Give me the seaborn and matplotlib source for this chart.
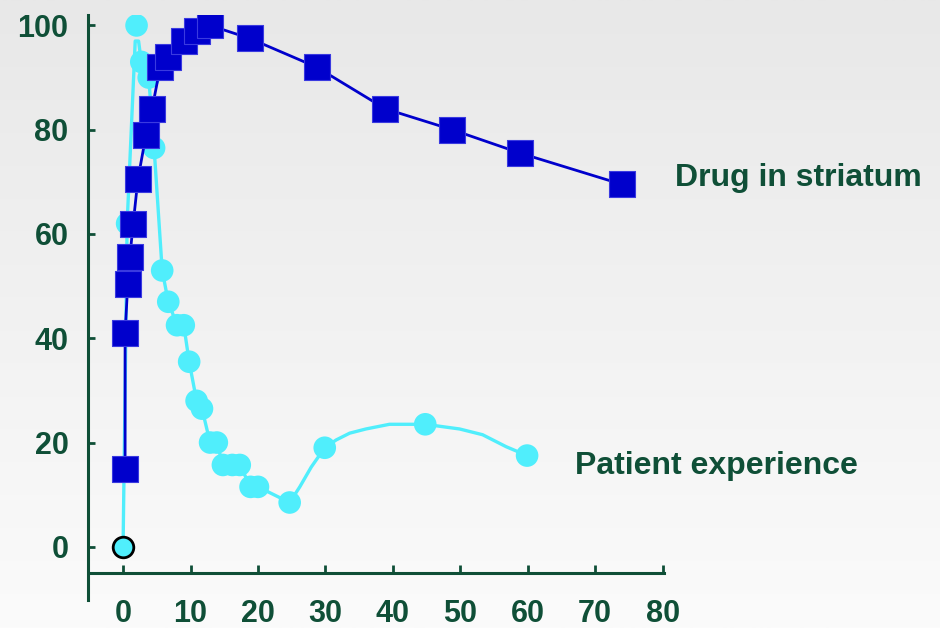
import numpy as np
import pandas as pd
import matplotlib
matplotlib.use("Agg")
import matplotlib.pyplot as plt
import seaborn as sns

# -------------------------
# Data
# -------------------------

drug_time = [0.3, 0.3, 0.7, 1.0, 1.5, 2.2, 3.4, 4.3, 5.5, 6.7, 9.0, 10.9, 12.9,
             18.8, 28.7, 38.9, 48.8, 58.9, 74.0]
drug_level = [15, 41, 50.5, 55.5, 62, 70.5, 79, 84, 92, 94, 97, 99, 100,
              97.5, 92, 84, 80, 75.5, 69.5]

patient_time = [0.6, 2.0, 2.7, 3.8, 4.6, 5.8, 6.7, 8.0, 9.0, 9.8, 10.9, 11.7,
                12.9, 13.9, 14.8, 16.2, 17.3, 18.9, 20.0, 24.7, 29.9, 44.8, 59.9]
patient_level = [62, 100, 93, 90, 76.5, 53, 47, 42.5, 42.5, 35.5, 28, 26.5,
                 20, 20, 15.7, 15.7, 15.7, 11.5, 11.5, 8.5, 19, 23.5, 17.5]

# path of the cyan line as traced on the picture (it is drawn smoothed)
patient_line_time = [0, 0.4, 0.6, 1.8, 2.3, 2.7, 3.8, 4.6, 5.8, 6.7, 8.0, 9.0, 9.8,
                     10.9, 11.7, 12.9, 13.9, 14.8, 16.2, 17.3, 18.9, 20.0, 24.7,
                     26.2, 27.9, 29.9, 31.6, 33.6, 36.0, 39.5, 44.8, 49.9, 53.3,
                     56.8, 59.9]
patient_line_level = [0, 40, 62, 97, 97, 93, 90, 76.5, 53, 47, 42.5, 42.5, 35.5,
                      28, 26.5, 20, 20, 15.7, 15.7, 15.7, 11.5, 11.5, 8.5,
                      11.5, 15.3, 19, 20.5, 21.8, 22.6, 23.5, 23.5, 22.6, 21.5,
                      19.2, 17.5]

start_time = [0]
start_level = [0]

x_ticks = [0, 10, 20, 30, 40, 50, 60, 70, 80]
y_ticks = [0, 20, 40, 60, 80, 100]

drug_label = "Drug in striatum"
patient_label = "Patient experience"

# -------------------------
# Style
# -------------------------

sns.set_style("ticks")
plt.rcParams["font.family"] = ["Liberation Sans", "DejaVu Sans"]

GREEN = "#0f4f37"
BLUE = "#0000cc"
CYAN = "#50eefc"

drug_df = pd.DataFrame({"time": drug_time, "level": drug_level})
patient_df = pd.DataFrame({"time": patient_time, "level": patient_level})
patient_line_df = pd.DataFrame({"time": patient_line_time, "level": patient_line_level})

fig = plt.figure(figsize=(9.4, 6.28), dpi=100)

# soft grey-to-white background
bg = fig.add_axes([0, 0, 1, 1], zorder=-10)
grad = np.linspace(0, 1, 256).reshape(-1, 1)
bg.imshow(grad, aspect="auto", cmap=matplotlib.colors.LinearSegmentedColormap.from_list(
    "bg", ["#e8e8e8", "#fbfbfb"]), extent=[0, 1, 0, 1], origin="upper")
bg.axis("off")

ax = fig.add_axes([88 / 940, 28 / 628, 576 / 940, 585 / 628])
ax.set_facecolor("none")

# -------------------------
# Patient experience (cyan)
# -------------------------

sns.lineplot(data=patient_line_df, x="time", y="level", sort=False, estimator=None,
             color=CYAN, linewidth=2.4, ax=ax, zorder=2)
sns.scatterplot(data=patient_df, x="time", y="level", marker="o", s=265,
                color=CYAN, edgecolor="none", linewidth=0, ax=ax, zorder=3)

# -------------------------
# Drug in striatum (dark blue)
# -------------------------

sns.lineplot(data=drug_df, x="time", y="level", sort=False, estimator=None,
             color=BLUE, linewidth=2.0, ax=ax, zorder=4)
sns.scatterplot(data=drug_df, x="time", y="level", marker="s", s=330,
                color=BLUE, edgecolor="#3a3ae0", linewidth=0.8, ax=ax, zorder=5)

# starting point
ax.scatter(start_time, start_level, s=220, color=CYAN, edgecolor="black",
           linewidth=2, zorder=6)

# -------------------------
# Axes
# -------------------------

ax.set_xlim(-5.2, 80.2)
ax.set_ylim(-10.2, 102)
ax.set_xticks(x_ticks)
ax.set_yticks(y_ticks)
ax.set_xlabel("")
ax.set_ylabel("")

ax.spines["top"].set_visible(False)
ax.spines["right"].set_visible(False)
ax.spines["bottom"].set_position(("data", -5))
for side in ["left", "bottom"]:
    ax.spines[side].set_color(GREEN)
    ax.spines[side].set_linewidth(2.2)
ax.spines["bottom"].set_bounds(-4.9, 80.2)

ax.tick_params(axis="x", direction="in", length=6, width=2, color=GREEN,
               pad=19, labelsize=22, labelcolor=GREEN)
ax.tick_params(axis="y", direction="in", length=5, width=2, color=GREEN,
               pad=14, labelsize=22, labelcolor=GREEN)
for lab in ax.get_xticklabels() + ax.get_yticklabels():
    lab.set_fontweight("bold")

ax.text(81.8, 70.7, drug_label, color=GREEN, fontsize=23, fontweight="bold",
        ha="left", va="center", clip_on=False)
ax.text(67.0, 15.5, patient_label, color=GREEN, fontsize=23, fontweight="bold",
        ha="left", va="center", clip_on=False)

plt.savefig("out.png", dpi=100)
plt.close()
